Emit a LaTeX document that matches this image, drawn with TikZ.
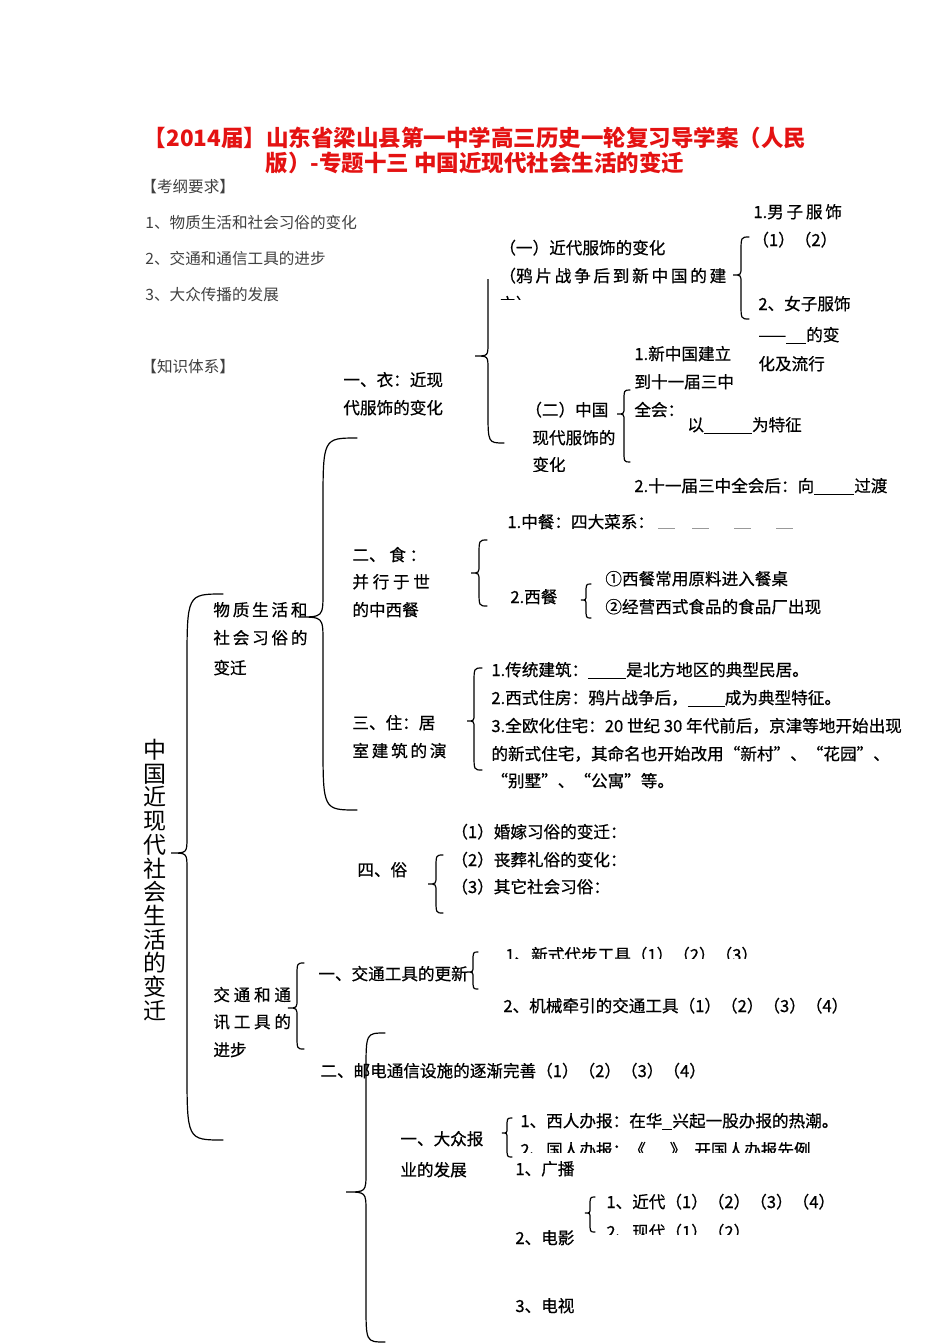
\documentclass[tikz,border=0pt]{standalone}
\usepackage{fontspec}
\setmainfont{Noto Sans CJK SC}
\newfontfamily\cuti[FakeBold=0.6]{Noto Sans CJK SC}
\usetikzlibrary{positioning}
\definecolor{biaoti}{RGB}{228,18,18}
\newcommand{\kong}[1]{\rule[-1.2pt]{#1}{0.45pt}}
\newcommand{\huikong}{\textcolor{black!40}{\rule[-0.6pt]{8.5pt}{0.8pt}}}
% brace: spine x, top y, tip y, bottom y, hook, tip depth
\newcommand{\kuohao}[6]{%
  \draw[kh] ({#1+#5},#2) .. controls (#1,#2) .. (#1,{#2+2*#5})
    -- (#1,{#3-#6}) .. controls (#1,#3) .. ({#1-#6},#3)
    .. controls (#1,#3) .. (#1,{#3+#6})
    -- (#1,{#4-2*#5}) .. controls (#1,#4) .. ({#1+#5},#4);}

\begin{document}
\begin{tikzpicture}[x=0.5pt, y=-0.5pt,
  wen/.style={anchor=base west, inner sep=0pt, font=\cuti\fontsize{8.3pt}{13.9pt}\selectfont},
  xiao/.style={anchor=base west, inner sep=0pt, font=\fontsize{7.8pt}{13pt}\selectfont, text=black!75},
  kh/.style={line width=0.6pt, line cap=round}]
  \useasboundingbox[fill=white] (0,0) rectangle (950,1344);

  % title
  \node[anchor=base, inner sep=0pt, text=biaoti, font=\fontsize{11.25pt}{13pt}\selectfont\bfseries] (bt1) at (475,146)
    {【2014届】山东省梁山县第一中学高三历史一轮复习导学案（人民};
  \node[anchor=base, inner sep=0pt, text=biaoti, font=\fontsize{11.25pt}{13pt}\selectfont\bfseries] (bt2) at (475,171)
    {版）-专题十三 中国近现代社会生活的变迁};

  % requirements
  \node[xiao] (kg0) at (141,192) {【考纲要求】};
  \node[xiao] (kg1) at (145,228) {1、物质生活和社会习俗的变化};
  \node[xiao] (kg2) at (145,264) {2、交通和通信工具的进步};
  \node[xiao] (kg3) at (145,300) {3、大众传播的发展};
  \node[xiao] (zs) at (141,372) {【知识体系】};

  % root
  \node[inner sep=0pt, align=center, font=\fontsize{11.5pt}{11.85pt}\selectfont] (gen) at (155,880)
    {中\\国\\近\\现\\代\\社\\会\\生\\活\\的\\变\\迁};
  \kuohao{187}{594}{853}{1140}{36}{16}

  % material life
  \node[wen] (wz1) at (213,616) {物\,质\,生\,活\,和};
  \node[wen] (wz2) at (213,644) {社\,会\,习\,俗\,的};
  \node[wen] (wz3) at (213,674) {变迁};
  \kuohao{323}{438}{617}{810}{34}{25}

  % clothing
  \node[wen] (yi1) at (343,386) {一、衣：近现};
  \node[wen] (yi2) at (343,414) {代服饰的变化};
  \begin{scope}
    \clip (470,279) rectangle (530,450);
    \kuohao{488}{252}{356}{443}{16}{13}
  \end{scope}
  \node[wen] (jd1) at (499,254) {（一）近代服饰的变化};
  \node[wen] (jd2) at (499,282) {（鸦\,片\,战\,争\,后\,到\,新\,中\,国\,的\,建};
  \begin{scope}
    \clip (490,288) rectangle (560,299);
    \node[wen] (jd3) at (499,310) {立）};
  \end{scope}
  \kuohao{741}{237}{275}{319}{8}{8}
  \node[wen] (nz1) at (753,218) {1.男\,子\,服\,饰};
  \node[wen] (nz2) at (752,246) {（1）（2）};
  \node[wen] (nv1) at (758,310) {2、女子服饰};
  \node[wen] (nv2) at (758,341) {——\kong{10pt}的变};
  \node[wen] (nv3) at (758,370) {化及流行};
  \node[wen] (er1) at (525,416) {（二）中国};
  \node[wen] (er2) at (532,444) {现代服饰的};
  \begin{scope}
    \clip (520,455) rectangle (600,471);
    \node[wen] (er3) at (532,471) {变化};
  \end{scope}
  \kuohao{624}{390}{414}{462}{6}{7}
  \node[wen] (xz1) at (634,360) {1.新中国建立};
  \node[wen] (xz2) at (634,388) {到十一届三中};
  \node[wen] (xz3) at (634,416) {全会：};
  \node[wen] (xz4) at (687,431) {以\kong{24pt}为特征};
  \node[wen] (sj) at (634,492) {2.十一届三中全会后：向\kong{20pt}过渡};

  % food
  \node[wen] (shi1) at (352,561) {二、 食 ：};
  \node[wen] (shi2) at (352,588) {并 行 于 世};
  \node[wen] (shi3) at (352,616) {的中西餐};
  \kuohao{479}{540}{573}{606}{8}{8}
  \node[wen] (zc) at (507,528) {1.中餐：四大菜系：\hspace{2pt}\huikong\hspace{8.5pt}\huikong\hspace{12.5pt}\huikong\hspace{12.5pt}\huikong};
  \node[wen] (xc) at (510,603) {2.西餐};
  \kuohao{586}{584}{600}{618}{5}{5}
  \node[wen] (xc1) at (605,585) {①西餐常用原料进入餐桌};
  \node[wen] (xc2) at (605,613) {②经营西式食品的食品厂出现};

  % housing
  \node[wen] (zhu1) at (352,729) {三、住：居};
  \node[wen] (zhu2) at (352,757) {室\,建\,筑\,的\,演};
  \kuohao{474}{668}{721}{770}{8}{7}
  \node[wen] (jz1) at (491,676) {1.传统建筑：\kong{19pt}是北方地区的典型民居。};
  \node[wen] (jz2) at (491,704) {2.西式住房：鸦片战争后，\kong{18.5pt}成为典型特征。};
  \node[wen] (jz3) at (491,732) {3.全欧化住宅：20 世纪 30 年代前后，京津等地开始出现};
  \node[wen] (jz4) at (491,760) {的新式住宅，其命名也开始改用“新村”、“花园”、};
  \node[wen] (jz5) at (491,787) {“别墅”、“公寓”等。};

  % customs
  \node[wen] (su) at (357,876) {四、俗};
  \kuohao{436}{855}{884}{913}{7}{8}
  \node[wen] (su1) at (451,838) {（1）婚嫁习俗的变迁：};
  \node[wen] (su2) at (451,866) {（2）丧葬礼俗的变化：};
  \node[wen] (su3) at (451,893) {（3）其它社会习俗：};

  % transport
  \node[wen] (jt1) at (213,1001) {交 通 和 通};
  \node[wen] (jt2) at (213,1028) {讯 工 具 的};
  \node[wen] (jt3) at (213,1056) {进步};
  \kuohao{297}{963}{1008}{1049}{7}{9}
  \node[wen] (gx) at (318,980) {一、交通工具的更新};
  \kuohao{473}{952}{972}{989}{5}{6}
  \begin{scope}
    \clip (495,940) rectangle (800,958.5);
    \node[wen] (gx1) at (505,961) {1、新式代步工具（1）（2）（3）};
  \end{scope}
  \node[wen] (gx2) at (503,1012) {2、机械牵引的交通工具（1）（2）（3）（4）};
  \node[wen] (yd) at (320,1077) {二、邮电通信设施的逐渐完善（1）（2）（3）（4）};

  % mass media
  \kuohao{366}{1033}{1192}{1342}{19}{20}
  \node[wen] (bz1) at (400,1145) {一、大众报};
  \node[wen] (bz2) at (400,1176) {业的发展};
  \kuohao{507}{1118}{1133}{1157}{5}{5}
  \node[wen] (bz3) at (520,1127) {1、西人办报：在华\kong{5pt}兴起一股办报的热潮。};
  \begin{scope}
    \clip (512,1140) rectangle (880,1152);
    \node[wen] (bz4) at (520,1156) {2、国人办报：《\hspace{12pt}》\hspace{4pt}开国人办报先例};
  \end{scope}
  \node[wen] (gb) at (515,1175) {1、广播};
  \kuohao{590}{1197}{1213}{1232}{5}{5}
  \node[wen] (dy1) at (606,1208) {1、近代（1）（2）（3）（4）};
  \begin{scope}
    \clip (598,1222) rectangle (780,1234);
    \node[wen] (dy2) at (606,1238) {2、现代（1）（2）};
  \end{scope}
  \node[wen] (dy) at (515,1244) {2、电影};
  \node[wen] (ds) at (515,1312) {3、电视};
\end{tikzpicture}
\end{document}
